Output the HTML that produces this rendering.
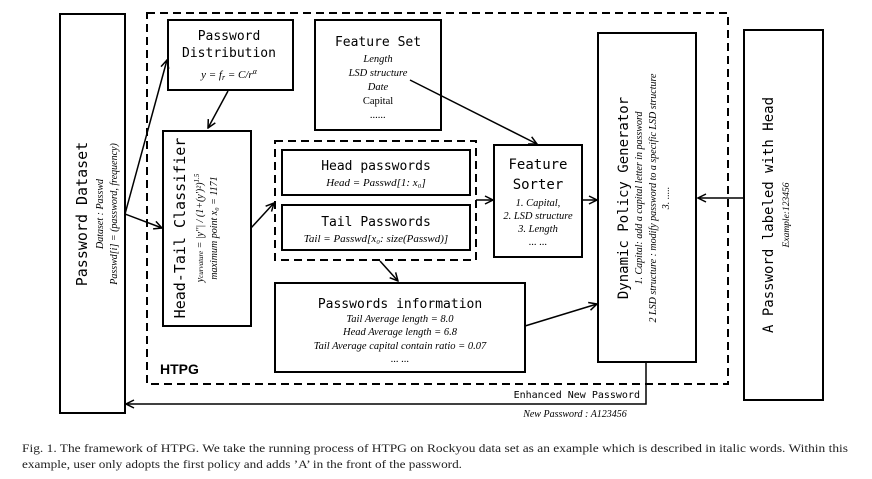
<!DOCTYPE html>
<html><head><meta charset="utf-8"><style>
body{margin:0;background:#fff;width:872px;height:479px;overflow:hidden}
svg{display:block}
.m{font-family:"DejaVu Sans Mono","Liberation Mono",monospace;fill:#000}
.i{font-family:"Liberation Serif",serif;font-style:italic;fill:#000}
.c{font-family:"Liberation Serif",serif;fill:#222}
</style></head><body>
<svg width="872" height="479" viewBox="0 0 872 479">
<defs><marker id="a" markerWidth="10" markerHeight="10" refX="9" refY="5" orient="auto" markerUnits="userSpaceOnUse"><path d="M1,1 L9,5 L1,9" fill="none" stroke="#000" stroke-width="1.5"/></marker></defs>
<g fill="none" stroke="#000" stroke-width="2">
<rect x="60" y="14" width="65" height="399"/>
<rect x="147" y="13" width="581" height="371" stroke-dasharray="8,5"/>
<rect x="168" y="20" width="125" height="70"/>
<rect x="315" y="20" width="126" height="110"/>
<rect x="163" y="131" width="88" height="195"/>
<rect x="275" y="141" width="201" height="119" stroke-dasharray="8,5"/>
<rect x="282" y="150" width="188" height="45"/>
<rect x="282" y="205" width="188" height="45"/>
<rect x="494" y="145" width="88" height="112"/>
<rect x="275" y="283" width="250" height="89"/>
<rect x="598" y="33" width="98" height="329"/>
<rect x="744" y="30" width="79" height="370"/>
</g>
<g fill="none" stroke="#000" stroke-width="1.5" marker-end="url(#a)">
<line x1="125" y1="214" x2="167" y2="60"/>
<line x1="125" y1="214" x2="162" y2="228"/>
<line x1="228" y1="91" x2="208" y2="128"/>
<line x1="251" y1="228" x2="274" y2="203"/>
<line x1="476" y1="200" x2="493" y2="200"/>
<line x1="410" y1="80" x2="537" y2="144"/>
<line x1="380" y1="261" x2="398" y2="281"/>
<line x1="525" y1="326" x2="597" y2="304"/>
<line x1="582" y1="200" x2="597" y2="200"/>
<line x1="744" y1="198" x2="698" y2="198"/>
<polyline points="646,362 646,404 126,404"/>
</g>
<text class="m" x="229" y="40" font-size="13" text-anchor="middle">Password</text>
<text class="m" x="229" y="57" font-size="13" text-anchor="middle">Distribution</text>
<text class="i" x="229" y="78" font-size="11" text-anchor="middle">y = f<tspan font-size="8" dy="2">r</tspan><tspan dy="-2"> = C/r</tspan><tspan font-size="8" dy="-4">α</tspan></text>
<text class="m" x="378" y="46" font-size="13" text-anchor="middle">Feature Set</text>
<g class="i" font-size="10.5" text-anchor="middle">
<text x="378" y="62">Length</text><text x="378" y="76">LSD structure</text><text x="378" y="90">Date</text>
<text x="378" y="104" font-style="normal">Capital</text><text x="378" y="118">......</text></g>
<text class="m" x="376" y="170" font-size="13" text-anchor="middle">Head passwords</text>
<text class="i" x="376" y="186" font-size="11" text-anchor="middle">Head = Passwd[1: x₀]</text>
<text class="m" x="376" y="226" font-size="13" text-anchor="middle">Tail Passwords</text>
<text class="i" x="376" y="242" font-size="11" text-anchor="middle">Tail = Passwd[x₀: size(Passwd)]</text>
<text class="m" x="538" y="169" font-size="14" text-anchor="middle">Feature</text>
<text class="m" x="538" y="189" font-size="14" text-anchor="middle">Sorter</text>
<g class="i" font-size="10.5" text-anchor="middle">
<text x="538" y="206">1. Capital,</text><text x="538" y="219">2. LSD structure</text><text x="538" y="232">3. Length</text><text x="538" y="245">... ...</text></g>
<text class="m" x="400" y="308" font-size="13" text-anchor="middle">Passwords information</text>
<g class="i" font-size="10.5" text-anchor="middle">
<text x="400" y="322">Tail Average length = 8.0</text><text x="400" y="335">Head Average length = 6.8</text>
<text x="400" y="349">Tail Average capital contain ratio = 0.07</text><text x="400" y="362">... ...</text></g>
<text x="160" y="374" font-family="Liberation Sans,sans-serif" font-weight="bold" font-size="14">HTPG</text>
<g transform="translate(87,214) rotate(-90)">
<text class="m" x="0" y="0" font-size="15" text-anchor="middle">Password Dataset</text>
<text class="i" x="0" y="16" font-size="10" text-anchor="middle">Dataset : Passwd</text>
<text class="i" x="0" y="30" font-size="10" text-anchor="middle">Passwd[i] = (password, frequency)</text></g>
<g transform="translate(185,228) rotate(-90)">
<text class="m" x="0" y="0" font-size="15" text-anchor="middle">Head-Tail Classifier</text>
<text class="i" x="0" y="18" font-size="10" text-anchor="middle">y<tspan font-size="7">curvature</tspan> = |y''| / (1+(y')²)<tspan font-size="7" dy="-4">1.5</tspan></text>
<text class="i" x="0" y="32" font-size="10" text-anchor="middle">maximum point x₀ = 1171</text></g>
<g transform="translate(628,198) rotate(-90)">
<text class="m" x="0" y="0" font-size="14" text-anchor="middle">Dynamic Policy Generator</text>
<text class="i" x="0" y="14" font-size="10" text-anchor="middle">1. Capital: add a capital letter in password</text>
<text class="i" x="0" y="28" font-size="10" text-anchor="middle">2 LSD structure : modify password to a  specific LSD structure</text>
<text class="i" x="0" y="41" font-size="10" text-anchor="middle">3. .....</text></g>
<g transform="translate(773,215) rotate(-90)">
<text class="m" x="0" y="0" font-size="14" text-anchor="middle">A Password labeled with Head</text>
<text class="i" x="0" y="16" font-size="9.5" text-anchor="middle">Example:123456</text></g>
<text class="m" x="640" y="398" font-size="10" text-anchor="end">Enhanced New Password</text>
<text class="i" x="575" y="417" font-size="10" text-anchor="middle">New Password : A123456</text>
<text class="c" x="22" y="452" font-size="11.5" textLength="826" lengthAdjust="spacingAndGlyphs">Fig. 1.   The framework of HTPG. We take the running process of HTPG on Rockyou data set as an example which is described in italic words. Within this</text>
<text class="c" x="22" y="468" font-size="11.5" textLength="440" lengthAdjust="spacingAndGlyphs">example, user only adopts the first policy and adds ’A’ in the front of the password.</text>
</svg>
</body></html>
